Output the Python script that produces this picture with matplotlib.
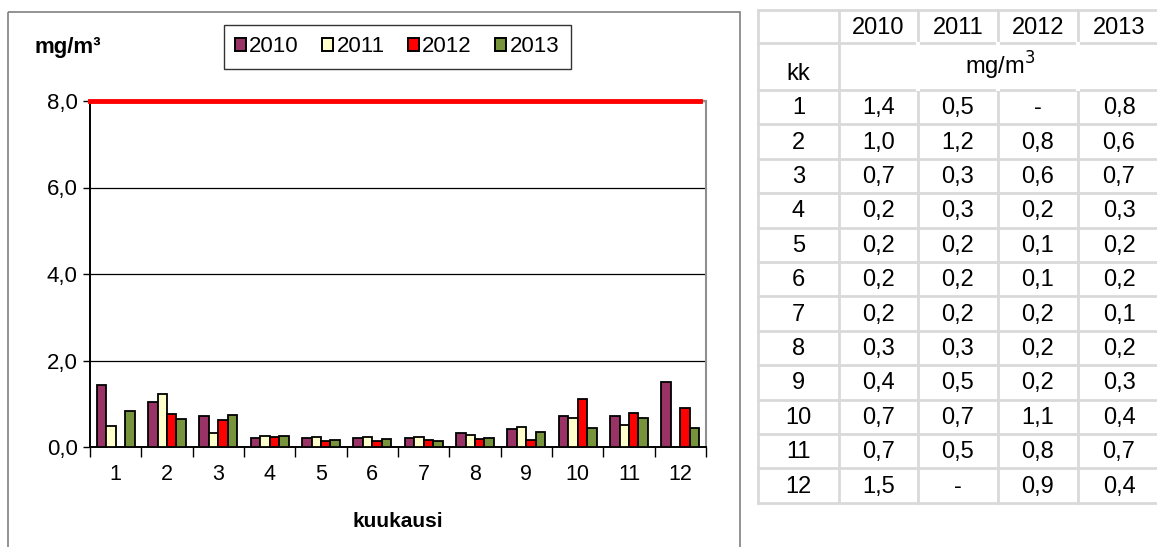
import numpy as np
import matplotlib
matplotlib.use("Agg")
import matplotlib.pyplot as plt
from matplotlib.patches import Patch, Rectangle

plt.rcParams['font.family'] = ['Liberation Sans', 'DejaVu Sans']

months = list(range(1, 13))
years = ["2010", "2011", "2012", "2013"]
v2010 = [1.43, 1.03, 0.71, 0.21, 0.21, 0.21, 0.21, 0.32, 0.42, 0.71, 0.71, 1.50]
v2011 = [0.48, 1.23, 0.33, 0.26, 0.24, 0.23, 0.23, 0.27, 0.46, 0.67, 0.52, np.nan]
v2012 = [np.nan, 0.77, 0.63, 0.24, 0.13, 0.14, 0.17, 0.19, 0.16, 1.11, 0.79, 0.90]
v2013 = [0.83, 0.64, 0.74, 0.26, 0.16, 0.19, 0.14, 0.21, 0.34, 0.43, 0.67, 0.44]
limit = 8.0
yticks = [0, 2, 4, 6, 8]

series = [v2010, v2011, v2012, v2013]
colors = ["#993366", "#FFFFCC", "#FF0000", "#77933C"]

W, H = 1157, 547
fig = plt.figure(figsize=(W / 100, H / 100), dpi=100)

# taustakerros pikselikoordinaateissa (kehys + taulukko)
bg = fig.add_axes([0, 0, 1, 1])
bg.set_xlim(0, W)
bg.set_ylim(H, 0)
bg.axis("off")
bg.add_patch(Rectangle((8, 12), 732, 540, fill=False, edgecolor="#808080", lw=1.2, clip_on=False))

# kaavio
ax = fig.add_axes([90 / W, 1 - 447 / H, 616 / W, 346 / H])
x = np.arange(len(months))
bw = 0.185
for i, (vals, c) in enumerate(zip(series, colors)):
    ax.bar(x + (i - 1.5) * bw, vals, width=bw, color=c, edgecolor="black", linewidth=1.3, zorder=3)
ax.axhline(limit, xmin=0, xmax=0.99, color="#FF0000", lw=3.5, zorder=4, clip_on=False)

ax.set_xlim(-0.5, 11.5)
ax.set_ylim(0, 8)
ax.set_yticks(yticks)
ax.set_yticklabels([f"{v:.1f}".replace(".", ",") for v in yticks], fontsize=16)
ax.yaxis.grid(True, color="black", lw=0.9, zorder=0)
ax.set_xticks(x)
ax.set_xticklabels([str(m) for m in months], fontsize=15.5)
ax.tick_params(axis="x", length=0, pad=12)
ax.set_xticks(np.arange(-0.5, 12, 1), minor=True)
ax.tick_params(axis="x", which="minor", length=7, width=1, direction="out")
ax.tick_params(axis="y", length=5, width=1, direction="out", pad=4)
for side in ["left", "bottom"]:
    ax.spines[side].set_color("black")
    ax.spines[side].set_linewidth(1.4)
for side in ["top", "right"]:
    ax.spines[side].set_color("#909090")
    ax.spines[side].set_linewidth(1.5)
ax.set_xlabel("kuukausi", fontsize=15, fontweight="bold", labelpad=20)

fig.text(34 / W, 1 - 47 / H, "mg/m³", fontsize=16, fontweight="bold", va="center", ha="left")

handles = [Patch(facecolor=c, edgecolor="black", linewidth=1.4) for c in colors]
leg = fig.legend(handles, years, loc="center", bbox_to_anchor=(397 / W, 1 - 47 / H), ncol=4,
                 fontsize=16, frameon=True, fancybox=False, edgecolor="black",
                 handlelength=0.5, handleheight=0.5, handletextpad=0.15, columnspacing=1.05,
                 borderpad=0.5, borderaxespad=0)
leg.get_frame().set_linewidth(1.0)

# taulukko
col_x = [758, 839, 918, 998, 1078, 1160]
row_y = [10, 43, 90] + [90 + 34.4 * (k + 1) for k in range(12)]
gc = "#d9d9d9"
for cx in col_x[:-1]:
    bg.plot([cx, cx], [row_y[0], row_y[-1]], color=gc, lw=2)
for ry in row_y:
    bg.plot([col_x[0], col_x[-1]], [ry, ry], color=gc, lw=2)
# yksikkörivi on yhdistetty solu
for cx in col_x[2:-1]:
    bg.plot([cx, cx], [row_y[1] + 1.2, row_y[2] - 1.2], color="white", lw=3)

tfs = 17
for j, yr in enumerate(years):
    bg.text((col_x[j + 1] + col_x[j + 2]) / 2, (row_y[0] + row_y[1]) / 2 + 1, yr,
            ha="center", va="center", fontsize=tfs)
bg.text((col_x[0] + col_x[1]) / 2, 74, "kk", ha="center", va="center", fontsize=tfs)
bg.text((col_x[1] + col_x[5]) / 2 + 1, 66, "mg/m$^3$", ha="center", va="center", fontsize=tfs)
for i, m in enumerate(months):
    cy = (row_y[i + 2] + row_y[i + 3]) / 2 + 1
    bg.text((col_x[0] + col_x[1]) / 2, cy, str(m), ha="center", va="center", fontsize=tfs)
    for j, vals in enumerate(series):
        v = vals[i]
        s = "-" if np.isnan(v) else f"{v:.1f}".replace(".", ",")
        bg.text((col_x[j + 1] + col_x[j + 2]) / 2, cy, s, ha="center", va="center", fontsize=tfs)

fig.savefig("out.png", dpi=100)
